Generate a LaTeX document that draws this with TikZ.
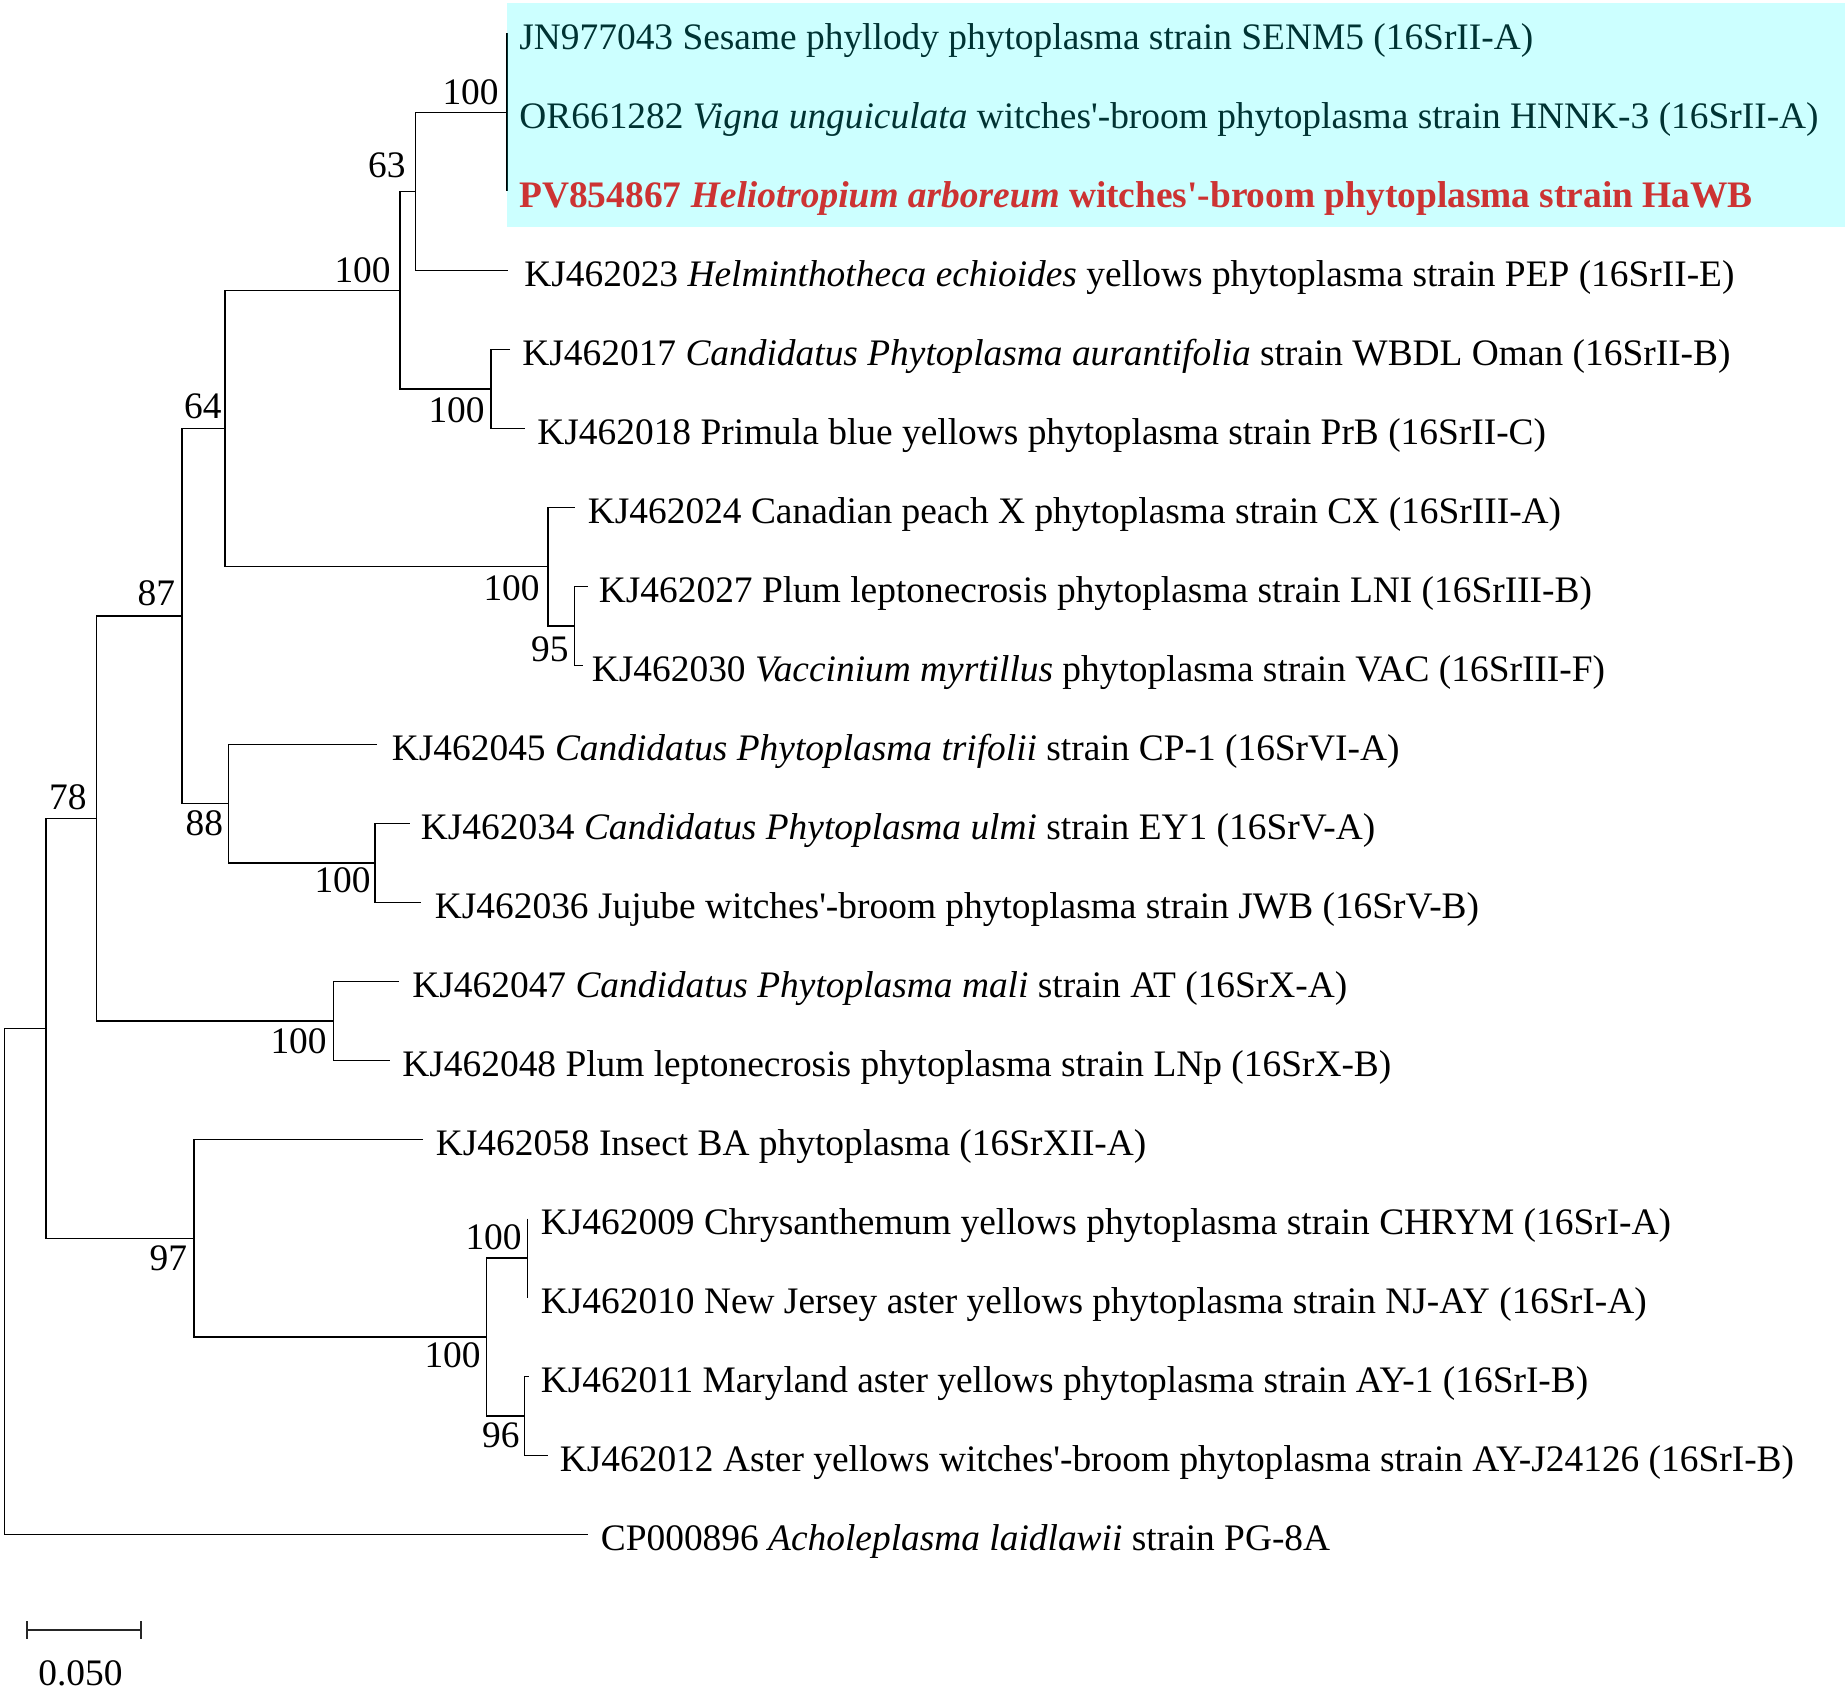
\documentclass[tikz,border=0pt]{standalone}
\usepackage{fontspec}
\setmainfont{Liberation Serif}[Ligatures=TeXOff]
\definecolor{hlcyan}{RGB}{0,255,255}
\definecolor{hlred}{RGB}{255,0,0}
\begin{document}
\begin{tikzpicture}[x=0.5pt,y=-0.5pt,
  br/.style={line width=0.6pt, black},
  txt/.style={inner sep=0pt, font=\fontsize{18.7pt}{22pt}\selectfont},
  leaf/.style={txt, anchor=base west},
  boot/.style={txt, anchor=base east},
  scalebar/.style={line width=0.9pt, black!85}]
\useasboundingbox (0,0) rectangle (1848,1689);
\fill[white] (0,0) rectangle (1848,1689);
% leaf tips
\coordinate (t0) at (507,33.5);
\coordinate (t1) at (507,112.5);
\coordinate (t2) at (507,191.5);
\coordinate (t3) at (508,270.5);
\coordinate (t4) at (510,349.5);
\coordinate (t5) at (524.5,428.5);
\coordinate (t6) at (574.5,507.5);
\coordinate (t7) at (587.5,586.5);
\coordinate (t8) at (583,665.5);
\coordinate (t9) at (377,744.5);
\coordinate (t10) at (409.5,823.5);
\coordinate (t11) at (421,902.5);
\coordinate (t12) at (399,981.5);
\coordinate (t13) at (390,1060.5);
\coordinate (t14) at (423,1139.5);
\coordinate (t15) at (527.4,1218.5);
\coordinate (t16) at (527.4,1297.5);
\coordinate (t17) at (528.6,1376.5);
\coordinate (t18) at (548,1455.5);
\coordinate (t19) at (588,1534.5);
% internal nodes
\coordinate (nA) at (507,112.5);
\coordinate (nB) at (415.5,191.5);
\coordinate (nC) at (400,290.25);
\coordinate (nD) at (491,389);
\coordinate (nE) at (225,428.5);
\coordinate (nF) at (548,566.75);
\coordinate (nG) at (574.5,626);
\coordinate (nH) at (182,616.1);
\coordinate (nI) at (228.6,803.75);
\coordinate (nJ) at (375,863);
\coordinate (nK) at (96.3,818.5);
\coordinate (nL) at (333.5,1021);
\coordinate (nM) at (46,1028.4);
\coordinate (nN) at (194,1238.25);
\coordinate (nO) at (486.7,1337);
\coordinate (nP) at (527.4,1258);
\coordinate (nQ) at (524.5,1416);
\coordinate (nR) at (4.5,1281.5);
% branches
\draw[br] (t0) -| (nA) |- (t2);
\draw[br] (nA) -| (nB) |- (t3);
\draw[br] (nB) -| (nC) |- (nD);
\draw[br] (t4) -| (nD) |- (t5);
\draw[br] (nC) -| (nE) |- (nF);
\draw[br] (t6) -| (nF) |- (nG);
\draw[br] (t7) -| (nG) |- (t8);
\draw[br] (nE) -| (nH) |- (nI);
\draw[br] (t9) -| (nI) |- (nJ);
\draw[br] (t10) -| (nJ) |- (t11);
\draw[br] (nH) -| (nK) |- (nL);
\draw[br] (t12) -| (nL) |- (t13);
\draw[br] (nK) -| (nM) |- (nN);
\draw[br] (t14) -| (nN) |- (nO);
\draw[br] (nP) -| (nO) |- (nQ);
\draw[br] (t15) -| (nP) |- (t16);
\draw[br] (t17) -| (nQ) |- (t18);
\draw[br] (nM) -| (nR) |- (t19);
% leaf labels
\node[leaf] (l0) at (519,49.8) {JN977043 Sesame phyllody phytoplasma strain SENM5 (16SrII-A)};
\node[leaf] (l1) at (519,128.8) {OR661282 \textit{Vigna unguiculata} witches'-broom phytoplasma strain HNNK-3 (16SrII-A)};
\node[leaf, text=hlred] (l2) at (519,207.8) {\bfseries PV854867 \textit{Heliotropium arboreum} witches'-broom phytoplasma strain HaWB};
\node[leaf] (l3) at (524,286.8) {KJ462023 \textit{Helminthotheca echioides} yellows phytoplasma strain PEP (16SrII-E)};
\node[leaf] (l4) at (522,365.8) {KJ462017 \textit{Candidatus Phytoplasma aurantifolia} strain WBDL Oman (16SrII-B)};
\node[leaf] (l5) at (537,444.8) {KJ462018 Primula blue yellows phytoplasma strain PrB (16SrII-C)};
\node[leaf] (l6) at (587.5,523.8) {KJ462024 Canadian peach X phytoplasma strain CX (16SrIII-A)};
\node[leaf] (l7) at (598.5,602.8) {KJ462027 Plum leptonecrosis phytoplasma strain LNI (16SrIII-B)};
\node[leaf] (l8) at (591.5,681.8) {KJ462030 \textit{Vaccinium myrtillus} phytoplasma strain VAC (16SrIII-F)};
\node[leaf] (l9) at (391.5,760.8) {KJ462045 \textit{Candidatus Phytoplasma trifolii} strain CP-1 (16SrVI-A)};
\node[leaf] (l10) at (420.5,839.8) {KJ462034 \textit{Candidatus Phytoplasma ulmi} strain EY1 (16SrV-A)};
\node[leaf] (l11) at (434.5,918.8) {KJ462036 Jujube witches'-broom phytoplasma strain JWB (16SrV-B)};
\node[leaf] (l12) at (412,997.8) {KJ462047 \textit{Candidatus Phytoplasma mali} strain AT (16SrX-A)};
\node[leaf] (l13) at (402,1076.8) {KJ462048 Plum leptonecrosis phytoplasma strain LNp (16SrX-B)};
\node[leaf] (l14) at (435.5,1155.8) {KJ462058 Insect BA phytoplasma (16SrXII-A)};
\node[leaf] (l15) at (540.5,1234.8) {KJ462009 Chrysanthemum yellows phytoplasma strain CHRYM (16SrI-A)};
\node[leaf] (l16) at (540.5,1313.8) {KJ462010 New Jersey aster yellows phytoplasma strain NJ-AY (16SrI-A)};
\node[leaf] (l17) at (540.5,1392.8) {KJ462011 Maryland aster yellows phytoplasma strain AY-1 (16SrI-B)};
\node[leaf] (l18) at (559.5,1471.8) {KJ462012 Aster yellows witches'-broom phytoplasma strain AY-J24126 (16SrI-B)};
\node[leaf] (l19) at (600.5,1550.8) {CP000896 \textit{Acholeplasma laidlawii} strain PG-8A};
% bootstrap values
\node[boot] (bA) at (499,105) {100};
\node[boot] (bB) at (406,178) {63};
\node[boot] (bC) at (391,283) {100};
\node[boot] (bD) at (485,423) {100};
\node[boot] (bE) at (222,419) {64};
\node[boot] (bF) at (540,601) {100};
\node[boot] (bG) at (569,661.5) {95};
\node[boot] (bH) at (175.5,606) {87};
\node[boot] (bI) at (223.5,835.5) {88};
\node[boot] (bJ) at (371,892.5) {100};
\node[boot] (bK) at (87,809.5) {78};
\node[boot] (bL) at (327,1053.5) {100};
\node[boot] (bN) at (187.5,1270.5) {97};
\node[boot] (bO) at (481,1367.5) {100};
\node[boot] (bP) at (522,1249) {100};
\node[boot] (bQ) at (520,1447) {96};
% highlight overlay
\fill[hlcyan, fill opacity=0.2] (506.7,3.3) rectangle (1845,227.3);
% scale bar
\coordinate (s0) at (26.7,1630);
\coordinate (s1) at (141,1630);
\draw[scalebar] (s0) -- (s1);
\draw[scalebar] ([yshift=4.5]s0) -- ([yshift=-4.5]s0);
\draw[scalebar] ([yshift=4.5]s1) -- ([yshift=-4.5]s1);
\node[txt, anchor=base] (sl) at (80.5,1685) {0.050};
\end{tikzpicture}
\end{document}
